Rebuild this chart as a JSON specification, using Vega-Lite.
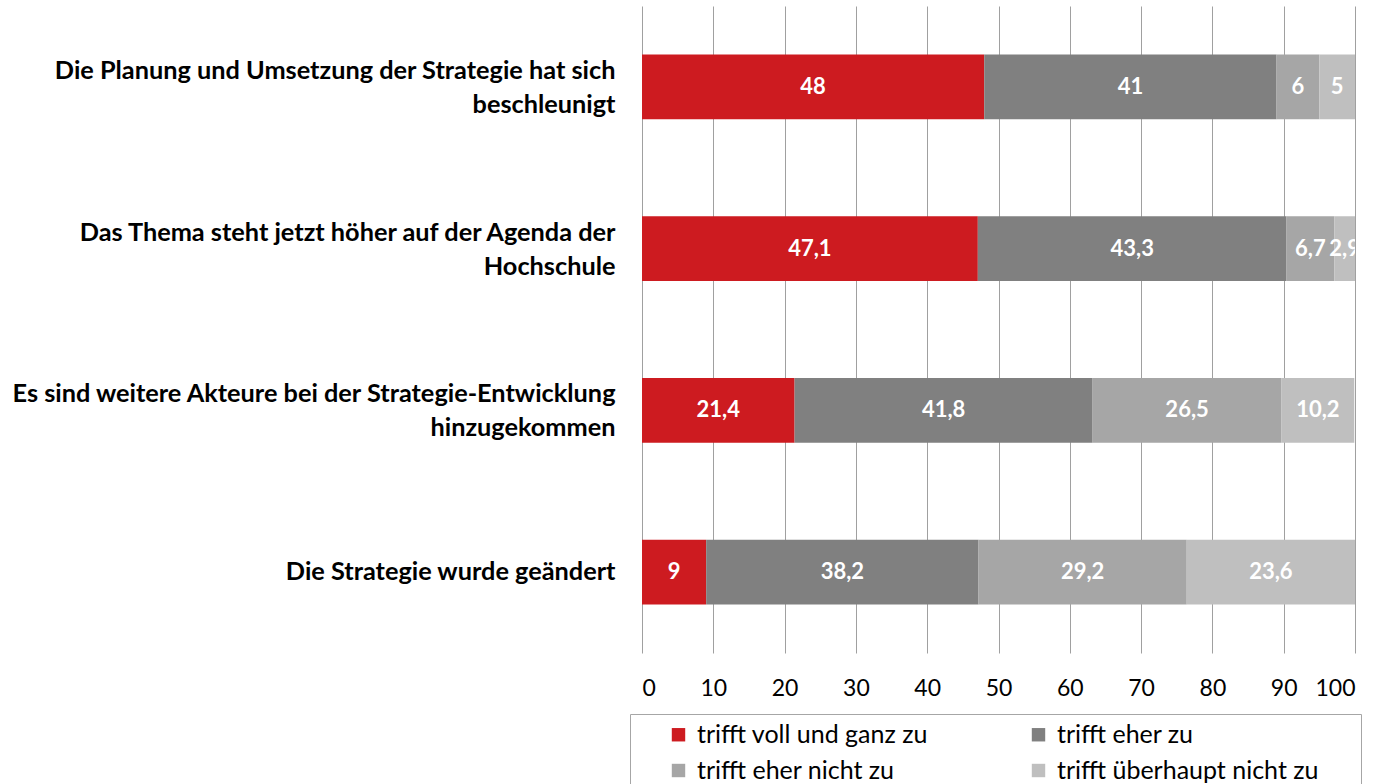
{
  "$schema": "https://vega.github.io/schema/vega-lite/v6.json",
  "autosize": "none",
  "width": 713,
  "height": 647,
  "padding": {"left": 642, "top": 6, "right": 24, "bottom": 131},
  "background": "white",
  "config": {
    "font": "Lato",
    "view": {"stroke": null}
  },
  "data": {
    "values": [
      {"category": "Die Planung und Umsetzung der Strategie hat sich|beschleunigt", "response": "trifft voll und ganz zu", "value": 48},
      {"category": "Die Planung und Umsetzung der Strategie hat sich|beschleunigt", "response": "trifft eher zu", "value": 41},
      {"category": "Die Planung und Umsetzung der Strategie hat sich|beschleunigt", "response": "trifft eher nicht zu", "value": 6},
      {"category": "Die Planung und Umsetzung der Strategie hat sich|beschleunigt", "response": "trifft überhaupt nicht zu", "value": 5},
      {"category": "Das Thema steht jetzt höher auf der Agenda der|Hochschule", "response": "trifft voll und ganz zu", "value": 47.1},
      {"category": "Das Thema steht jetzt höher auf der Agenda der|Hochschule", "response": "trifft eher zu", "value": 43.3},
      {"category": "Das Thema steht jetzt höher auf der Agenda der|Hochschule", "response": "trifft eher nicht zu", "value": 6.7},
      {"category": "Das Thema steht jetzt höher auf der Agenda der|Hochschule", "response": "trifft überhaupt nicht zu", "value": 2.9},
      {"category": "Es sind weitere Akteure bei der Strategie-Entwicklung|hinzugekommen", "response": "trifft voll und ganz zu", "value": 21.4},
      {"category": "Es sind weitere Akteure bei der Strategie-Entwicklung|hinzugekommen", "response": "trifft eher zu", "value": 41.8},
      {"category": "Es sind weitere Akteure bei der Strategie-Entwicklung|hinzugekommen", "response": "trifft eher nicht zu", "value": 26.5},
      {"category": "Es sind weitere Akteure bei der Strategie-Entwicklung|hinzugekommen", "response": "trifft überhaupt nicht zu", "value": 10.2},
      {"category": "Die Strategie wurde geändert", "response": "trifft voll und ganz zu", "value": 9},
      {"category": "Die Strategie wurde geändert", "response": "trifft eher zu", "value": 38.2},
      {"category": "Die Strategie wurde geändert", "response": "trifft eher nicht zu", "value": 29.2},
      {"category": "Die Strategie wurde geändert", "response": "trifft überhaupt nicht zu", "value": 23.6}
    ]
  },
  "transform": [
    {"calculate": "indexof(['trifft voll und ganz zu','trifft eher zu','trifft eher nicht zu','trifft überhaupt nicht zu'], datum.response)", "as": "ord"},
    {"stack": "value", "groupby": ["category"], "sort": [{"field": "ord", "order": "ascending"}], "as": ["x0", "x1"]},
    {"calculate": "(datum.x0 + datum.x1) / 2", "as": "mid"},
    {"calculate": "replace(toString(datum.value), '.', ',')", "as": "lbl"}
  ],
  "encoding": {
    "y": {
      "field": "category",
      "type": "nominal",
      "sort": null,
      "title": null,
      "scale": {"paddingInner": 0.6, "paddingOuter": 0.3},
      "axis": {
        "labelExpr": "split(datum.label, '|')",
        "labelFont": "Lato",
        "labelFontWeight": "bold",
        "labelFontSize": 25.3,
        "labelColor": "black",
        "labelLineHeight": 34,
        "labelPadding": 27,
        "labelLimit": 700,
        "labelOffset": {"condition": {"test": "indexof(datum.value, '|') >= 0", "value": -16}, "value": 0},
        "ticks": false,
        "domain": false,
        "grid": false
      }
    }
  },
  "layer": [
    {
      "mark": {"type": "bar"},
      "encoding": {
        "x": {
          "field": "x0",
          "type": "quantitative",
          "scale": {"domain": [0, 100], "nice": false},
          "title": null,
          "axis": {
            "values": [0, 10, 20, 30, 40, 50, 60, 70, 80, 90, 100],
            "grid": true,
            "gridColor": "#a0a0a0",
            "gridWidth": 1,
            "domain": false,
            "ticks": false,
            "labelFont": "Lato",
            "labelFontSize": 23,
            "labelColor": "black",
            "labelPadding": 24
          }
        },
        "x2": {"field": "x1"},
        "color": {
          "field": "response",
          "type": "nominal",
          "sort": ["trifft voll und ganz zu", "trifft eher zu", "trifft eher nicht zu", "trifft überhaupt nicht zu"],
          "scale": {
            "domain": ["trifft voll und ganz zu", "trifft eher zu", "trifft eher nicht zu", "trifft überhaupt nicht zu"],
            "range": ["#cd1b20", "#808080", "#a6a6a6", "#bfbfbf"]
          },
          "legend": {
            "title": null,
            "orient": "none",
            "legendX": -12,
            "legendY": 708,
            "columns": 2,
            "direction": "horizontal",
            "symbolType": "square",
            "symbolSize": 180,
            "symbolStrokeWidth": 0,
            "symbolOffset": 28,
            "labelFont": "Lato",
            "labelFontSize": 25,
            "labelColor": "black",
            "labelOffset": 6,
            "labelLimit": 1000,
            "columnPadding": 70,
            "rowPadding": 10,
            "padding": 8,
            "strokeColor": "#a6a6a6",
            "labelExpr": "indexof(datum.label, 'berhaupt') >= 0 ? datum.label + '\u2003\u2002\u2009\u200b' : datum.label"
          }
        }
      }
    },
    {
      "mark": {"type": "text", "color": "white", "fontWeight": "bold", "fontSize": 22, "font": "Lato", "clip": true, "baseline": "middle"},
      "encoding": {
        "x": {"field": "mid", "type": "quantitative"},
        "text": {"field": "lbl", "type": "nominal"}
      }
    }
  ]
}
